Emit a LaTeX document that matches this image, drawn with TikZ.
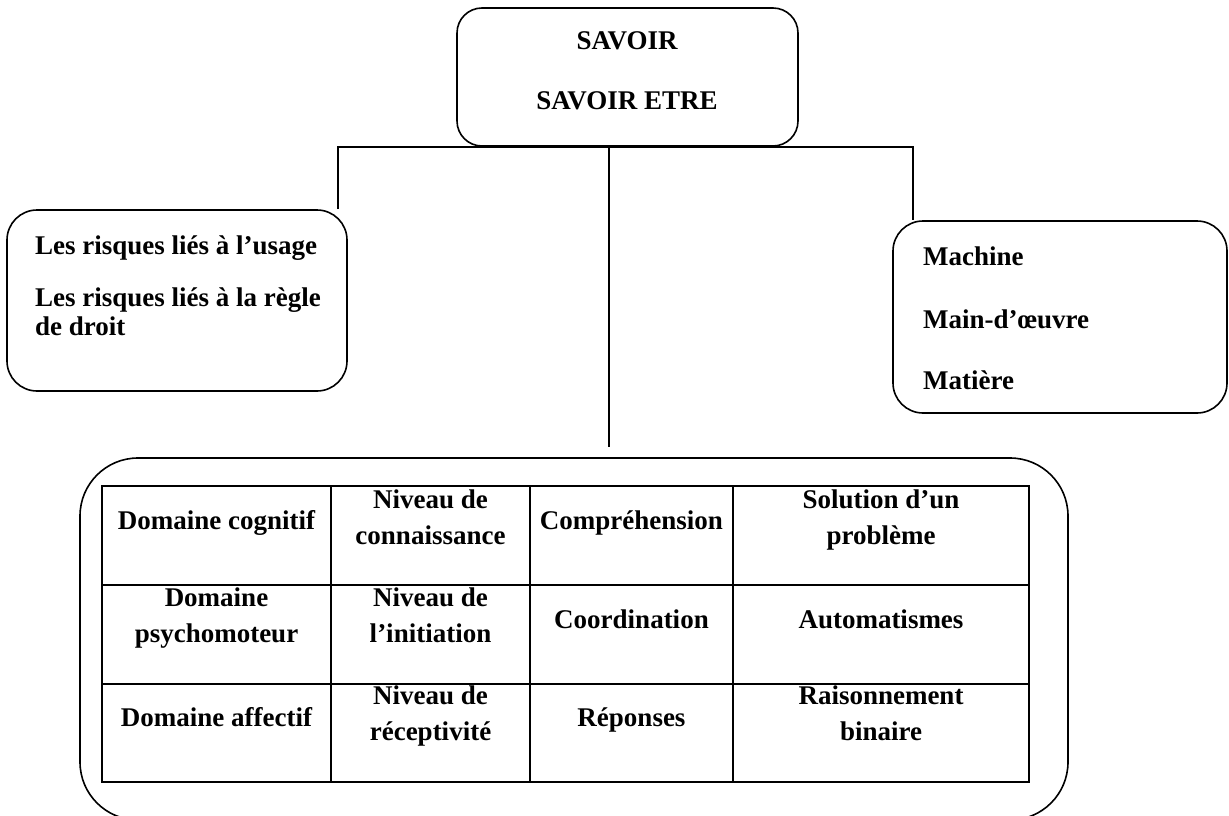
\documentclass[tikz,border=0pt]{standalone}
\usepackage{fontspec}
\setmainfont{Liberation Serif}
\tikzset{
  box/.style={draw, line width=1.6pt, rounded corners=#1, inner sep=0pt},
  conn/.style={line width=1.6pt},
  gridline/.style={line width=2.4pt},
  txt/.style={font=\fontsize{27}{36}\selectfont\bfseries, inner sep=0pt},
  lefttxt/.style={txt, anchor=base west},
  cell/.style={txt, align=center, anchor=center,
    execute at begin node=\strut, execute at end node=\strut}
}
\begin{document}
\begin{tikzpicture}[x=1pt,y=-1pt]
\useasboundingbox (0,0) rectangle (1229,816);
% boxes
\node[box=25pt, minimum width=341pt, minimum height=138pt] (top) at (627.5,77) {};
\node[box=30pt, minimum width=340pt, minimum height=181pt] (lbox) at (177,300.5) {};
\node[box=30pt, minimum width=334pt, minimum height=192pt] (rbox) at (1060,317) {};
\node[box=58pt, minimum width=988pt, minimum height=362pt] (bbox) at (574,639) {};
% texts in top box
\node[txt, anchor=base] (t1) at (627,50) {SAVOIR};
\node[txt, anchor=base] (t2) at (627,110) {SAVOIR ETRE};
% left box
\node[lefttxt] (l1) at (35,254) {Les risques liés à l’usage};
\node[lefttxt] (l2) at (35,306) {Les risques liés à la règle};
\node[lefttxt] (l3) at (35,335) {de droit};
% right box
\node[lefttxt] (r1) at (923,265) {Machine};
\node[lefttxt] (r2) at (923,328) {Main-d’œuvre};
\node[lefttxt] (r3) at (923,389) {Matière};
% connectors
\draw[conn] ([xshift=-10pt]lbox.north east) |- (top.south) -| ([xshift=21pt]rbox.north west);
\coordinate (midend) at (609,447);
\draw[conn] (midend |- top.south) -- (midend);
% table
\draw[gridline] (102,486) rectangle (1029,782);
\draw[gridline] (331,486) -- (331,782);
\draw[gridline] (530,486) -- (530,782);
\draw[gridline] (733,486) -- (733,782);
\draw[gridline] (102,585) -- (1029,585);
\draw[gridline] (102,684) -- (1029,684);
% cells row 1
\node[cell] (c11) at (216.5,522.5) {Domaine cognitif};
\node[cell] (c12) at (430.5,522.5) {Niveau de\\connaissance};
\node[cell] (c13) at (631.5,522.5) {Compréhension};
\node[cell] (c14) at (881,522.5) {Solution d’un\\problème};
% row 2
\node[cell] (c21) at (216.5,621) {Domaine\\psychomoteur};
\node[cell] (c22) at (430.5,621) {Niveau de\\l’initiation};
\node[cell] (c23) at (631.5,621) {Coordination};
\node[cell] (c24) at (881,621) {Automatismes};
% row 3
\node[cell] (c31) at (216.5,719) {Domaine affectif};
\node[cell] (c32) at (430.5,719) {Niveau de\\réceptivité};
\node[cell] (c33) at (631.5,719) {Réponses};
\node[cell] (c34) at (881,719) {Raisonnement\\binaire};
\end{tikzpicture}
\end{document}
